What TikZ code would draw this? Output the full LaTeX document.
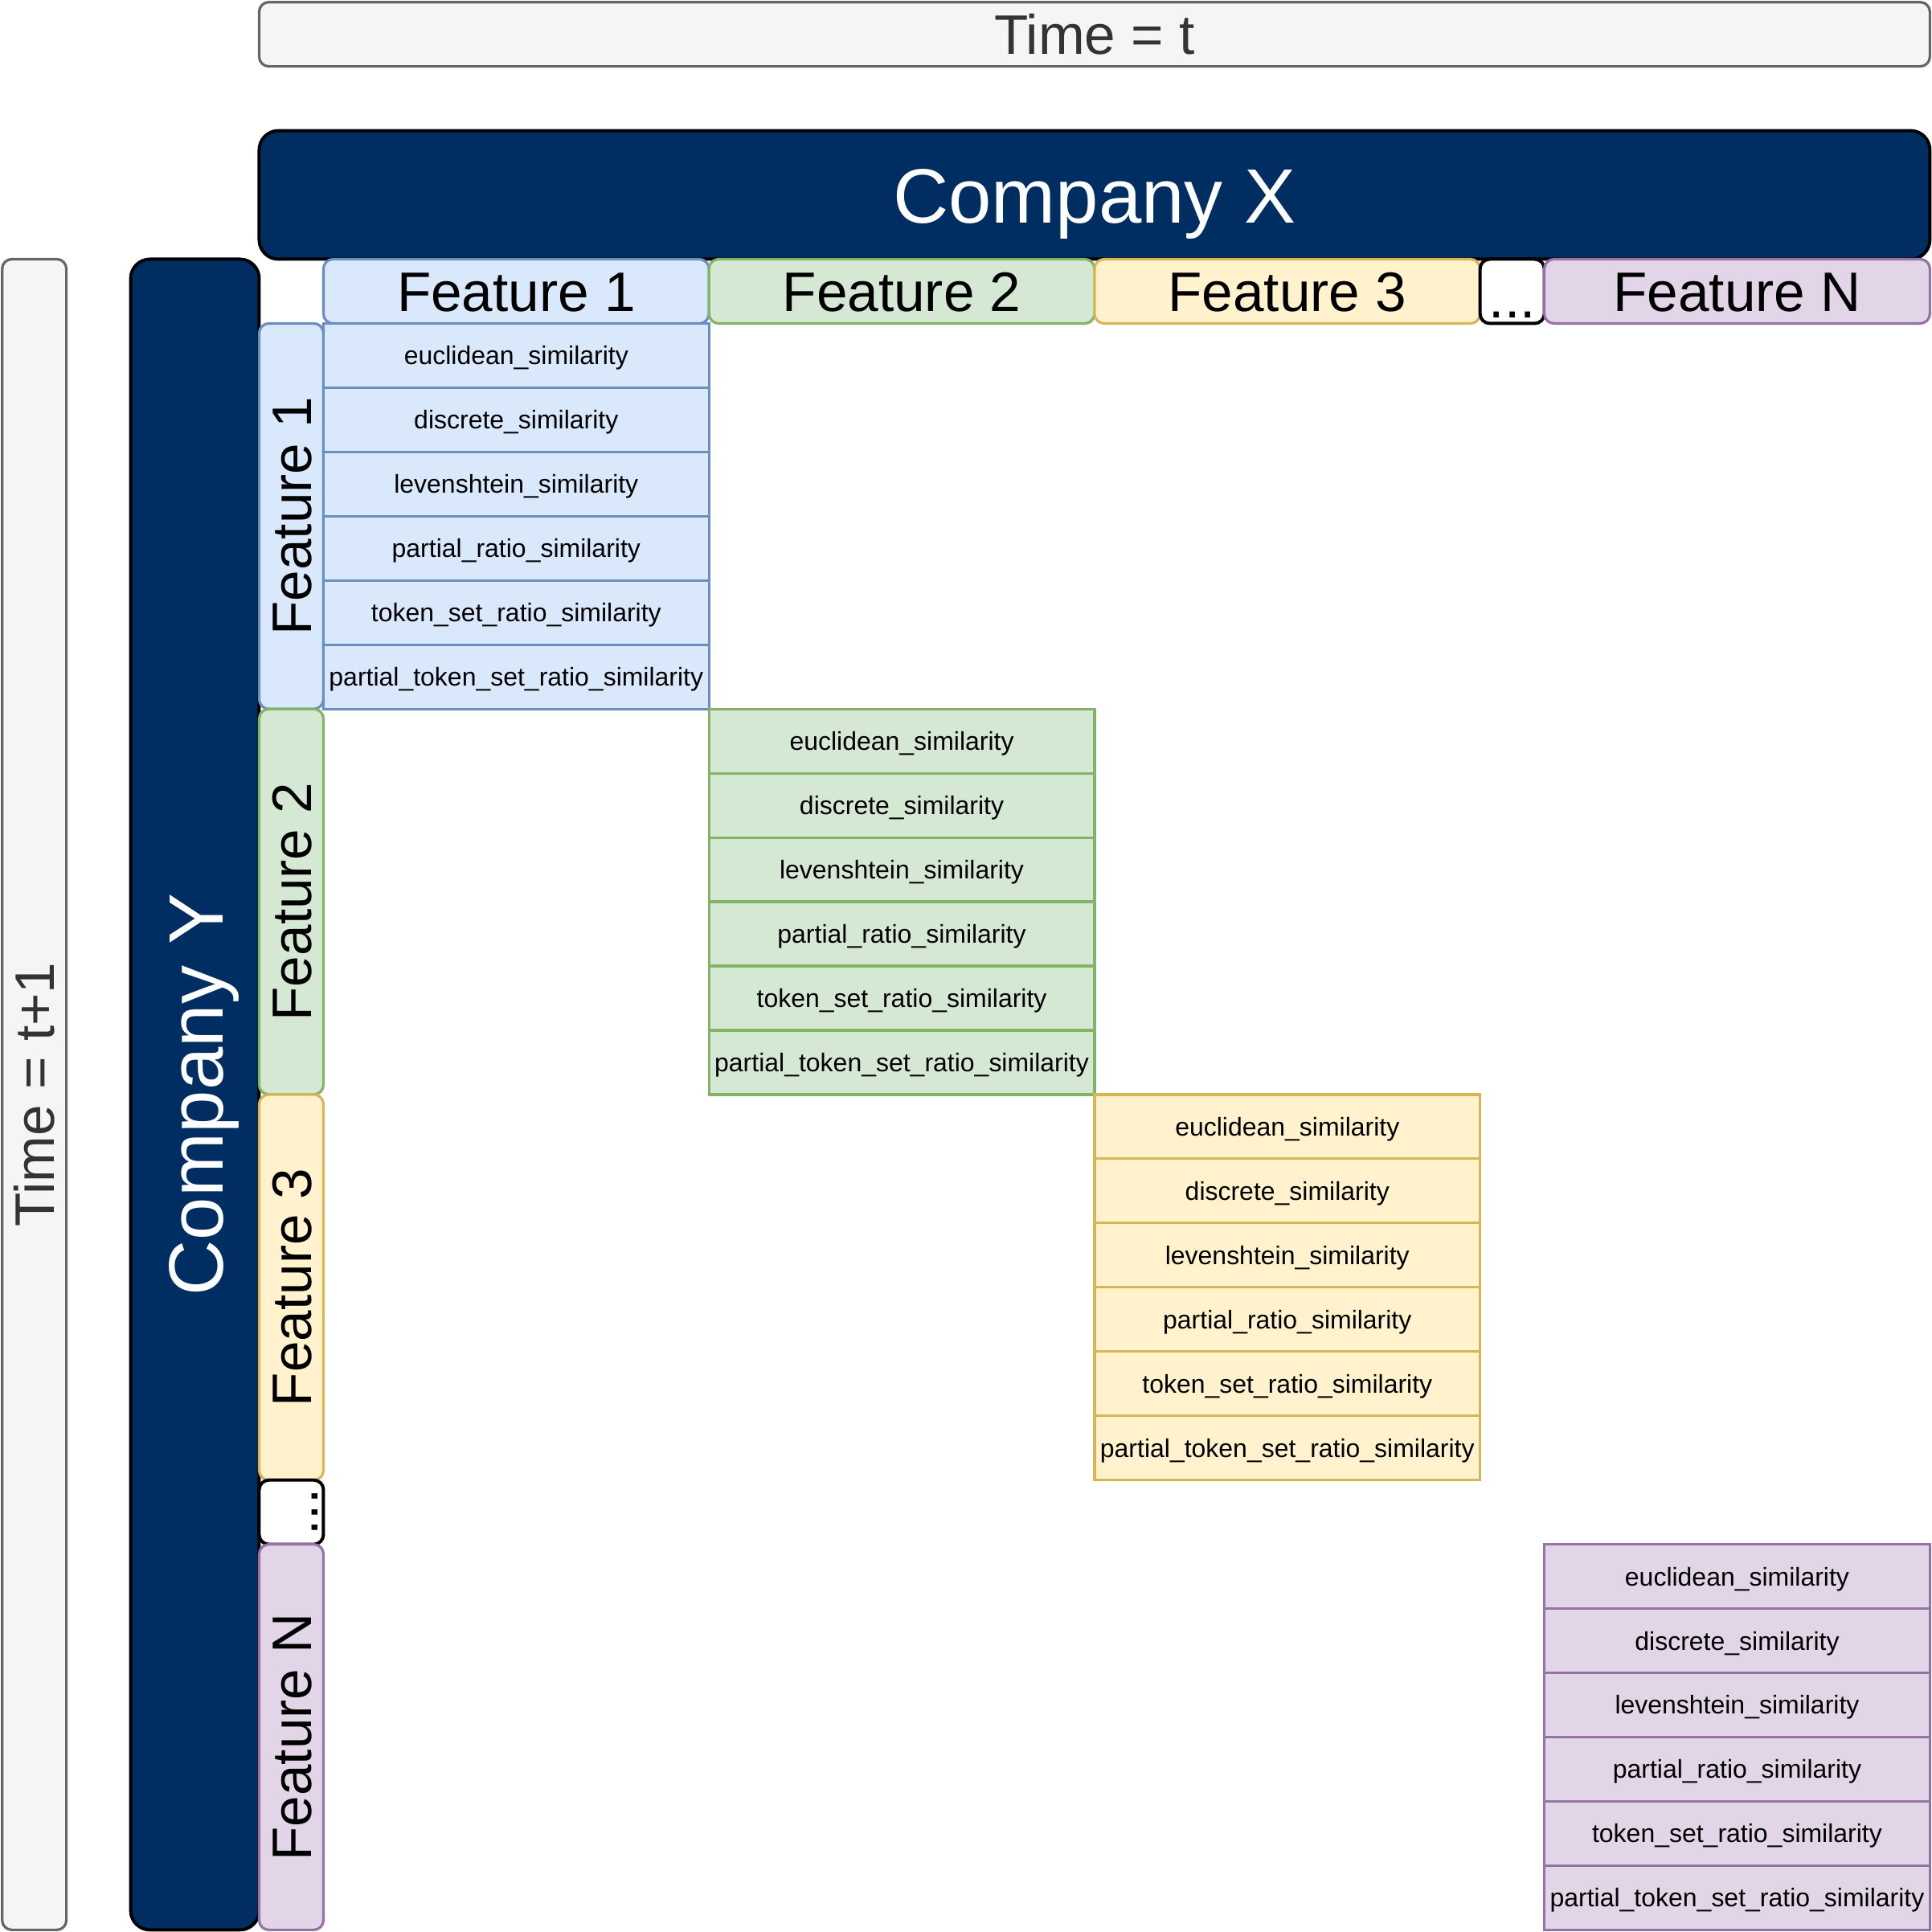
\documentclass[tikz,border=0pt]{standalone}
\usepackage{fontspec}
\setmainfont{Liberation Sans}
\definecolor{navy}{HTML}{002D62}
\definecolor{tfill}{HTML}{F5F5F5}
\definecolor{tdraw}{HTML}{666666}
\definecolor{ttext}{HTML}{333333}
\definecolor{bfill}{HTML}{DAE8FC}\definecolor{bdraw}{HTML}{6C8EBF}
\definecolor{gfill}{HTML}{D5E8D4}\definecolor{gdraw}{HTML}{82B366}
\definecolor{yfill}{HTML}{FFF2CC}\definecolor{ydraw}{HTML}{D6B656}
\definecolor{pfill}{HTML}{E1D5E7}\definecolor{pdraw}{HTML}{9673A6}
\tikzset{
  basebox/.style={inner sep=0pt, outer sep=0pt},
  timebox/.style={basebox, draw=tdraw, fill=tfill, line width=1.2pt, rounded corners=4.5pt, text=ttext,
    font=\fontsize{26}{31}\selectfont, text height=18.7pt, text depth=0pt, minimum width=780pt, minimum height=30pt},
  compbox/.style={basebox, draw=black, fill=navy, line width=1.5pt, rounded corners=9pt, text=white,
    font=\fontsize{36}{43}\selectfont, text height=25.9pt, text depth=0pt, minimum width=780pt, minimum height=60pt},
  featbox/.style 2 args={basebox, draw=#2, fill=#1, line width=1.2pt, rounded corners=4.5pt,
    font=\fontsize{26}{31}\selectfont, text height=18.7pt, text depth=0pt, minimum width=180pt, minimum height=30pt},
  dotsbox/.style={basebox, draw=black, fill=white, line width=1.5pt, rounded corners=4.5pt,
    font=\fontsize{26}{31}\selectfont, text height=25pt, text depth=0pt, minimum width=30pt, minimum height=30pt},
  cellbox/.style 2 args={basebox, draw=#2, fill=#1, line width=1.2pt,
    font=\fontsize{12}{14}\selectfont, text height=8.6pt, text depth=0pt, minimum width=180pt, minimum height=30pt},
}
\begin{document}
\begin{tikzpicture}[x=1pt,y=-1pt]
\useasboundingbox (-1,-1) rectangle (901,901);
% time boxes
\node[timebox] (tt) at (510,15) {Time = t};
\node[timebox, rotate=90] (tt1) at (15,510) {Time = t+1};
% company boxes
\node[compbox] (cx) at (510,90) {Company X};
\node[compbox, rotate=90] (cy) at (90,510) {Company Y};
% header features
\node[featbox={bfill}{bdraw}] (hf1) at (240,135) {Feature 1};
\node[featbox={gfill}{gdraw}] (hf2) at (420,135) {Feature 2};
\node[featbox={yfill}{ydraw}] (hf3) at (600,135) {Feature 3};
\node[dotsbox] (hdots) at (705,135) {...};
\node[featbox={pfill}{pdraw}] (hfn) at (810,135) {Feature N};
% vertical features
\node[featbox={bfill}{bdraw}, rotate=90] (vf1) at (135,240) {Feature 1};
\node[featbox={gfill}{gdraw}, rotate=90] (vf2) at (135,420) {Feature 2};
\node[featbox={yfill}{ydraw}, rotate=90] (vf3) at (135,600) {Feature 3};
\node[dotsbox, rotate=90] (vdots) at (135,705) {...};
\node[featbox={pfill}{pdraw}, rotate=90] (vfn) at (135,810) {Feature N};
% similarity cells
\foreach \cx/\cy/\fc/\dc/\nm in {240/150/bfill/bdraw/a, 420/330/gfill/gdraw/b, 600/510/yfill/ydraw/c, 810/720/pfill/pdraw/n}{
  \foreach \i/\t in {0/euclidean\_similarity, 1/discrete\_similarity, 2/levenshtein\_similarity,
                     3/partial\_ratio\_similarity, 4/token\_set\_ratio\_similarity,
                     5/partial\_token\_set\_ratio\_similarity}{
    \node[cellbox={\fc}{\dc}] (\nm\i) at ({\cx},{\cy+15+30*\i}) {\t};
  }
}
\end{tikzpicture}
\end{document}
